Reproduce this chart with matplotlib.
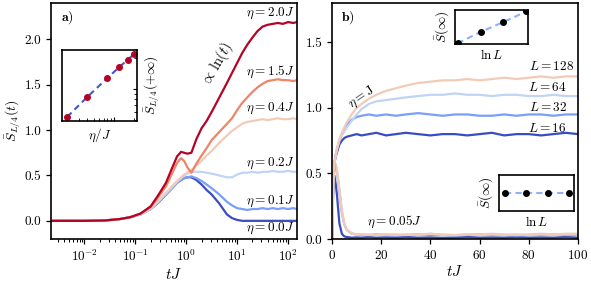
import numpy as np
import matplotlib
matplotlib.use('Agg')
import matplotlib.pyplot as plt
from matplotlib import cm

plt.rcParams['font.family'] = 'serif'
plt.rcParams['font.serif'] = ['cmr10']
plt.rcParams['mathtext.fontset'] = 'cm'
plt.rcParams['axes.formatter.use_mathtext'] = True
plt.rcParams['axes.unicode_minus'] = False
plt.rcParams['font.size'] = 9.5

# ================================================
# Panel a : entropie vs tJ (echelle log)
t_a = [0.002, 0.01, 0.025, 0.05, 0.079, 0.126, 0.2, 0.28, 0.4, 0.525, 0.66, 0.79,
       0.91, 1.05, 1.26, 1.58, 2.0, 2.51, 3.16, 4.47, 6.31, 7.94, 10.0, 12.6, 15.8,
       20.0, 25.1, 31.6, 39.8, 50.1, 63.1, 79.4, 100.0, 126.0, 150.0]

eta_a = ['0.0', '0.1', '0.2', '0.4', '1.5', '2.0']

S_eta00 = [0, 0, 0.004, 0.02, 0.04, 0.07, 0.13, 0.20, 0.29, 0.36, 0.42, 0.45,
           0.47, 0.48, 0.48, 0.45, 0.40, 0.34, 0.29, 0.19, 0.07, 0.03, 0.01, 0.0, 0.0,
           0.0, 0.0, 0.0, 0.0, 0.0, 0.0, 0.0, 0.0, 0.0, 0.0]
S_eta01 = [0, 0, 0.004, 0.02, 0.04, 0.07, 0.13, 0.20, 0.29, 0.36, 0.42, 0.45,
           0.47, 0.48, 0.49, 0.47, 0.44, 0.40, 0.36, 0.29, 0.21, 0.17, 0.14, 0.13, 0.12,
           0.13, 0.13, 0.14, 0.13, 0.14, 0.13, 0.14, 0.13, 0.14, 0.13]
S_eta02 = [0, 0, 0.004, 0.02, 0.04, 0.07, 0.13, 0.21, 0.30, 0.37, 0.43, 0.47,
           0.50, 0.52, 0.54, 0.54, 0.54, 0.53, 0.52, 0.50, 0.48, 0.48, 0.51, 0.53, 0.53,
           0.54, 0.53, 0.54, 0.54, 0.55, 0.54, 0.54, 0.55, 0.54, 0.54]
S_eta04 = [0, 0, 0.004, 0.02, 0.04, 0.07, 0.14, 0.22, 0.31, 0.38, 0.44, 0.48,
           0.51, 0.53, 0.56, 0.61, 0.66, 0.72, 0.77, 0.86, 0.94, 0.99, 1.03, 1.07, 1.09,
           1.10, 1.11, 1.12, 1.11, 1.12, 1.13, 1.12, 1.12, 1.13, 1.12]
S_eta15 = [0, 0, 0.004, 0.02, 0.04, 0.08, 0.15, 0.26, 0.38, 0.52, 0.64, 0.69,
           0.66, 0.59, 0.53, 0.63, 0.72, 0.80, 0.89, 0.98, 1.07, 1.13, 1.22, 1.30, 1.36,
           1.42, 1.47, 1.51, 1.54, 1.55, 1.56, 1.55, 1.55, 1.54, 1.55]
S_eta20 = [0, 0, 0.004, 0.02, 0.04, 0.08, 0.16, 0.28, 0.42, 0.58, 0.71, 0.76,
           0.75, 0.74, 0.75, 0.90, 1.02, 1.10, 1.20, 1.36, 1.52, 1.63, 1.74, 1.85, 1.94,
           2.02, 2.09, 2.14, 2.16, 2.17, 2.18, 2.17, 2.19, 2.18, 2.19]
courbes_a = [S_eta00, S_eta01, S_eta02, S_eta04, S_eta15, S_eta20]

# Inset a : S(+inf) vs eta/J (log-log)
eta_ins = [0.2, 0.4, 0.8, 1.2, 1.6, 2.0]
S_ins = [0.54, 0.84, 1.28, 1.63, 1.91, 2.18]

# ================================================
# Panel b : entropie vs tJ (lineaire)
t_b = [0, 0.5, 1, 1.5, 2, 3, 4, 5, 6, 8, 10, 12, 15, 18, 22, 26, 30, 35, 40, 45,
       50, 55, 60, 65, 70, 75, 80, 85, 90, 95, 100]
L_b = [16, 32, 64, 128]

# eta = J
SJ_16 = [0, 0.40, 0.58, 0.63, 0.66, 0.72, 0.75, 0.77, 0.78, 0.79, 0.80, 0.79, 0.80,
         0.81, 0.79, 0.80, 0.81, 0.80, 0.79, 0.80, 0.80, 0.79, 0.80, 0.81, 0.79, 0.80,
         0.80, 0.79, 0.80, 0.81, 0.80]
SJ_32 = [0, 0.40, 0.58, 0.64, 0.68, 0.75, 0.80, 0.84, 0.87, 0.91, 0.93, 0.94, 0.95,
         0.94, 0.95, 0.94, 0.95, 0.96, 0.95, 0.94, 0.95, 0.95, 0.94, 0.94, 0.95, 0.94,
         0.95, 0.95, 0.94, 0.95, 0.95]
SJ_64 = [0, 0.40, 0.58, 0.64, 0.68, 0.75, 0.79, 0.82, 0.85, 0.90, 0.95, 0.99, 1.03,
         1.05, 1.06, 1.07, 1.08, 1.09, 1.10, 1.10, 1.11, 1.10, 1.10, 1.09, 1.10, 1.10,
         1.09, 1.09, 1.10, 1.09, 1.09]
SJ_128 = [0, 0.40, 0.58, 0.64, 0.69, 0.76, 0.81, 0.85, 0.89, 0.95, 1.00, 1.03, 1.07,
          1.10, 1.13, 1.15, 1.17, 1.19, 1.20, 1.21, 1.21, 1.22, 1.21, 1.22, 1.23, 1.22,
          1.23, 1.24, 1.23, 1.24, 1.24]

# eta = 0.05 J
S005_16 = [0, 0.50, 0.48, 0.42, 0.34, 0.12, 0.04, 0.02, 0.015, 0.01, 0.012, 0.01,
           0.015, 0.01, 0.012, 0.01, 0.015, 0.01, 0.012, 0.008, 0.01, 0.015, 0.01,
           0.012, 0.01, 0.015, 0.01, 0.012, 0.01, 0.015, 0.01]
S005_32 = [0, 0.45, 0.58, 0.56, 0.51, 0.36, 0.20, 0.11, 0.07, 0.04, 0.035, 0.03,
           0.03, 0.035, 0.03, 0.025, 0.03, 0.035, 0.03, 0.03, 0.025, 0.03, 0.035, 0.03,
           0.03, 0.025, 0.03, 0.03, 0.035, 0.03, 0.03]
S005_64 = [0, 0.45, 0.58, 0.57, 0.52, 0.37, 0.21, 0.11, 0.07, 0.04, 0.035, 0.035,
           0.03, 0.03, 0.035, 0.03, 0.035, 0.03, 0.04, 0.03, 0.03, 0.035, 0.03, 0.035,
           0.03, 0.035, 0.03, 0.035, 0.03, 0.035, 0.035]
S005_128 = [0, 0.45, 0.59, 0.57, 0.53, 0.38, 0.22, 0.12, 0.07, 0.045, 0.035, 0.035,
            0.035, 0.03, 0.035, 0.035, 0.03, 0.035, 0.04, 0.035, 0.03, 0.035, 0.035,
            0.04, 0.035, 0.03, 0.035, 0.04, 0.035, 0.04, 0.04]
courbes_J = [SJ_16, SJ_32, SJ_64, SJ_128]
courbes_005 = [S005_16, S005_32, S005_64, S005_128]

# Insets b : S(inf) vs ln L
lnL = np.log(L_b)
Sinf_J = [0.79, 0.95, 1.09, 1.24]
Sinf_005 = [0.03, 0.03, 0.03, 0.03]

# ================================================
W, H = 591, 281
fig = plt.figure(figsize=(W/100, H/100), dpi=100)

def boite(x0, y0, x1, y1):
    # coordonnees pixel -> fraction de figure
    return [x0/W, (H-y1)/H, (x1-x0)/W, (y1-y0)/H]

ax = fig.add_axes(boite(51, 3, 297, 239))
axb = fig.add_axes(boite(332, 3, 578, 239))

cols_a = [cm.coolwarm(v) for v in [0.0, 0.2, 0.4, 0.6, 0.8, 1.0]]
for S, c in zip(courbes_a, cols_a):
    ax.plot(t_a, S, color=c, lw=1.6)
ax.set_xscale('log')
ax.set_xlim(0.0022, 150)
ax.set_ylim(-0.2, 2.4)
ax.set_yticks([0.0, 0.5, 1.0, 1.5, 2.0])
ax.set_yticklabels(['0.0', '0.5', '1.0', '1.5', '2.0'])
ax.set_xlabel(r'$tJ$', fontsize=11, labelpad=2)
ax.set_ylabel(r'$\bar{S}_{L/4}(t)$', fontsize=10, labelpad=1)

lab_y = [0.047, 0.161, 0.322, 0.555, 0.708, 0.958]
for e, y in zip(eta_a, lab_y):
    ax.text(0.99, y, r'$\eta=%sJ$' % e, transform=ax.transAxes, ha='right', va='center')
ax.text(0.675, 0.742, r'$\propto\,\ln(t)$', transform=ax.transAxes, ha='center',
        va='center', rotation=60, fontsize=10.5)
ax.text(0.065, 0.94, r'$\mathbf{a)}$', transform=ax.transAxes, ha='center', va='center',
        fontsize=10)

# inset a
axi = fig.add_axes(boite(62, 50, 137, 121))
axi.plot(eta_ins, S_ins, '--', color=cm.coolwarm(0.03), lw=1.5, dashes=(3, 2))
axi.plot(eta_ins, S_ins, 'o', color=cm.coolwarm(1.0), ms=4, clip_on=False)
axi.set_xscale('log')
axi.set_yscale('log')
axi.set_xlim(0.168, 2.21)
axi.set_ylim(0.494, 2.38)
axi.tick_params(which='both', direction='in', left=False, right=True,
                labelleft=False, labelbottom=False, labelright=False)
axi.tick_params(which='major', length=3)
axi.tick_params(which='minor', length=2)
axi.yaxis.set_label_position('right')
axi.set_xlabel(r'$\eta/J$', labelpad=4)
axi.set_ylabel(r'$\bar{S}_{L/4}(+\infty)$', labelpad=4)

# panel b
cols_b = [cm.coolwarm(v) for v in [0.0, 0.2, 0.4, 0.6]]
for S, c in zip(courbes_005, cols_b):
    axb.plot(t_b, S, color=c, lw=1.6)
for S, c in zip(courbes_J, cols_b):
    axb.plot(t_b, S, color=c, lw=1.6)
axb.set_xlim(0, 100)
axb.set_ylim(0, 1.8)
axb.set_yticks([0.0, 0.5, 1.0, 1.5])
axb.set_yticklabels(['0.0', '0.5', '1.0', '1.5'])
axb.set_xticks([0, 20, 40, 60, 80, 100])
axb.set_xlabel(r'$tJ$', fontsize=11, labelpad=2)

lab_L = [(0.955, 0.470), (0.955, 0.559), (0.955, 0.640), (0.984, 0.729)]
for Lv, (x, y) in zip(L_b, lab_L):
    axb.text(x, y, r'$L=%d$' % Lv, transform=axb.transAxes, ha='right', va='center')
axb.text(0.122, 0.602, r'$\eta=\mathrm{J}$', transform=axb.transAxes, ha='center',
         va='center', rotation=34)
axb.text(0.256, 0.072, r'$\eta=0.05J$', transform=axb.transAxes, ha='center', va='center')
axb.text(0.065, 0.94, r'$\mathbf{b)}$', transform=axb.transAxes, ha='center', va='center',
         fontsize=10)

for a in (ax, axb):
    for s in a.spines.values():
        s.set_linewidth(1.2)
    a.tick_params(which='major', direction='out', length=3.5, width=0.9)
    a.tick_params(which='minor', direction='out', length=2, width=0.7)

# insets b
axb1 = fig.add_axes(boite(455, 10, 528, 44))
axb1.plot(lnL, Sinf_J, '--', color=cm.coolwarm(0.25), lw=1.5, dashes=(3, 2))
axb1.plot(lnL, Sinf_J, 'o', color='k', ms=4)
axb1.set_xlim(lnL[0] - 0.08, lnL[-1] + 0.05)
axb1.set_ylim(0.78, 1.26)

axb2 = fig.add_axes(boite(499, 175, 574, 211))
axb2.plot(lnL, Sinf_005, '--', color=cm.coolwarm(0.25), lw=1.5, dashes=(3, 2))
axb2.plot(lnL, Sinf_005, 'o', color='k', ms=4)
axb2.set_xlim(lnL[0] - 0.18, lnL[-1] + 0.15)
axb2.set_ylim(0.0, 0.06)

for a in (axb1, axb2):
    a.set_xticks([])
    a.set_yticks([])
    a.set_xlabel(r'$\ln L$', labelpad=3)
    a.set_ylabel(r'$\bar{S}(\infty)$', labelpad=3)
    for s in a.spines.values():
        s.set_linewidth(1.2)
for s in axi.spines.values():
    s.set_linewidth(1.2)

fig.savefig('out.png', dpi=100)
